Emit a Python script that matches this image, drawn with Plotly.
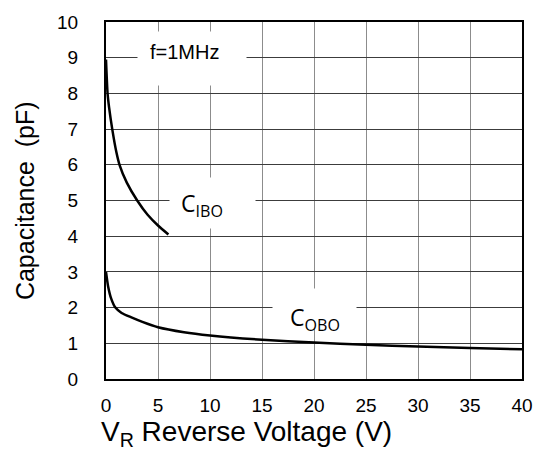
import plotly.graph_objects as go

# C_IBO (input capacitance) vs reverse voltage
vr_ibo = [0, 0.15, 0.3, 0.6, 1.0, 1.3, 2.0, 3.0, 4.0, 5.0, 6.0]
c_ibo = [8.95, 8.0, 7.6, 7.0, 6.35, 6.0, 5.5, 5.0, 4.6, 4.3, 4.05]

# C_OBO (output capacitance) vs reverse voltage
vr_obo = [0, 0.2, 0.5, 0.9, 1.5, 2.5, 3.5, 5, 7.5, 10, 15, 20, 25, 30, 35, 40]
c_obo = [3.0, 2.6, 2.25, 2.0, 1.85, 1.72, 1.6, 1.45, 1.31, 1.22, 1.1, 1.02, 0.96, 0.91, 0.87, 0.83]

x_ticks = [0, 5, 10, 15, 20, 25, 30, 35, 40]
y_ticks = [0, 1, 2, 3, 4, 5, 6, 7, 8, 9, 10]

W, H = 545, 462
L, R, T, B = 106, 20, 16, 83
pw, ph = W - L - R, H - T - B

def px(xp):
    return (xp - L) / pw

def py(yp):
    return (H - B - yp) / ph

fig = go.Figure()
for xs, ys in [(vr_ibo, c_ibo), (vr_obo, c_obo)]:
    fig.add_trace(go.Scatter(x=xs, y=ys, mode="lines",
                             line=dict(color="black", width=2.5, shape="spline", smoothing=0.6),
                             showlegend=False, hoverinfo="skip"))

# white label boxes (break the grid), drawn as empty annotations with a white background
for (x0, y0, x1, y1) in [(139, 27, 247, 80), (171, 175, 256, 225), (275, 288, 358, 327)]:
    fig.add_annotation(xref="paper", yref="paper", showarrow=False, text=" ",
                       x=px((x0 + x1) / 2), y=py((y0 + y1) / 2),
                       xanchor="center", yanchor="middle",
                       width=x1 - x0, height=y1 - y0, borderpad=0,
                       bgcolor="white", font=dict(size=10))

font = "Liberation Sans, Arial, sans-serif"
anns = [
    dict(text="f=1MHz", x=px(185), y=py(46), font=dict(size=20, family=font, color="black"),
         xanchor="center", yanchor="middle"),
    dict(text="C<sub>IBO</sub>", x=px(203), y=py(202), font=dict(size=23, family="Open Sans, sans-serif", color="black"),
         xanchor="center", yanchor="middle"),
    dict(text="C<sub>OBO</sub>", x=px(317), y=py(317), font=dict(size=23, family="Open Sans, sans-serif", color="black"),
         xanchor="center", yanchor="middle"),
    dict(text="V<sub>R</sub> Reverse Voltage (V)", x=px(99), y=py(415),
         font=dict(size=28, family=font, color="black"), xanchor="left", yanchor="top"),
    dict(text="Capacitance  (pF)", x=px(24), y=0.5, textangle=-90,
         font=dict(size=25, family=font, color="black"), xanchor="center", yanchor="middle"),
]
for a in anns:
    fig.add_annotation(xref="paper", yref="paper", showarrow=False, **a)

fig.update_xaxes(range=[0, 40], tickvals=x_ticks, ticktext=[str(v) for v in x_ticks],
                 showgrid=True, gridcolor="#8c8c8c", gridwidth=1,
                 showline=True, linecolor="black", linewidth=2, mirror=True,
                 ticks="outside", ticklen=0, ticklabelstandoff=8,
                 tickfont=dict(size=19, family=font, color="black"), zeroline=False)
fig.update_yaxes(range=[0, 10], tickvals=y_ticks, ticktext=[str(v) for v in y_ticks],
                 showgrid=True, gridcolor="#3c3c3c", gridwidth=1,
                 showline=True, linecolor="black", linewidth=2, mirror=True,
                 ticks="outside", ticklen=0, ticklabelstandoff=22,
                 tickfont=dict(size=19, family=font, color="black"), zeroline=False)

fig.update_layout(width=W, height=H, margin=dict(l=L, r=R, t=T, b=B),
                  paper_bgcolor="white", plot_bgcolor="white")

fig.write_html("out.html")
